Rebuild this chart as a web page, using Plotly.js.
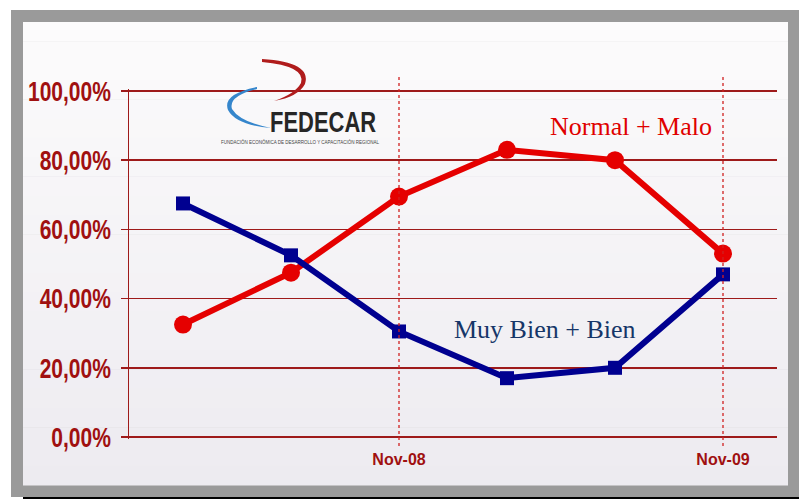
<!DOCTYPE html>
<html>
<head>
<meta charset="utf-8">
<script src="https://cdn.plot.ly/plotly-3.0.1.min.js"></script>
<style>html,body{margin:0;padding:0;background:#fff;}#chart{width:799px;height:499px;}</style>
</head>
<body>
<div id="chart"></div>
<script>
// ---- data ----
var periods = [0, 1, 2, 3, 4, 5];
var normalMalo = [32.5, 47.5, 69.5, 83, 80, 53];
var muyBienBien = [67.5, 52.5, 30.5, 17, 20, 47];
var yTickVals = [0, 20, 40, 60, 80, 100];
var yTickText = ["0,00%", "20,00%", "40,00%", "60,00%", "80,00%", "100,00%"];
var xTickVals = [2, 5];
var xTickText = ["Nov-08", "Nov-09"];

// ---- layout helpers (pixel -> paper) ----
var M = {l: 129, r: 22, t: 89, b: 60};
var W = 799, H = 499;
var PW = W - M.l - M.r, PH = H - M.t - M.b;
function px(x) { return (x - M.l) / PW; }
function py(y) { return (H - M.b - y) / PH; }
function pt(x, y) { return px(x).toFixed(5) + "," + py(y).toFixed(5); }

var darkRed = "#9e1a1a";

var traces = [
  {
    x: periods, y: normalMalo, type: "scatter", mode: "lines+markers",
    line: {color: "#e50000", width: 6},
    marker: {symbol: "circle", size: 18, color: "#e50000"},
    hoverinfo: "skip", showlegend: false
  },
  {
    x: periods, y: muyBienBien, type: "scatter", mode: "lines+markers",
    line: {color: "#000090", width: 6},
    marker: {symbol: "square", size: 14, color: "#000090"},
    hoverinfo: "skip", showlegend: false
  }
];

var shapes = [
  // gray frame
  {type: "rect", xref: "paper", yref: "paper", layer: "below",
   x0: px(11), x1: px(800), y0: py(497), y1: py(10),
   fillcolor: "#9a9a9a", line: {width: 0}}
];
// inner panel with a soft vertical gradient
var nBands = 24, panelTop = 22, panelBot = 485;
for (var i = 0; i < nBands; i++) {
  var b0 = panelTop + (panelBot - panelTop) * i / nBands;
  var b1 = panelTop + (panelBot - panelTop) * (i + 1) / nBands;
  var f = i / (nBands - 1);
  var cr = Math.round(252 - 15 * f), cg = Math.round(251 - 16 * f), cb = Math.round(252 - 12 * f);
  shapes.push({type: "rect", xref: "paper", yref: "paper", layer: "below",
    x0: px(23), x1: px(788), y0: py(b1 + 0.5), y1: py(b0),
    fillcolor: "rgb(" + cr + "," + cg + "," + cb + ")", line: {width: 0}});
}
shapes.push(
  // black bottom line
  {type: "rect", xref: "paper", yref: "paper", layer: "below",
   x0: px(23), x1: px(800), y0: py(499.5), y1: py(497),
   fillcolor: "#000000", line: {width: 0}},
  // logo swooshes (filled crescents)
  {type: "path", xref: "paper", yref: "paper", layer: "above",
   path: "M" + pt(262, 59) + " Q" + pt(312, 62) + " " + pt(305, 84) +
         " Q" + pt(298, 97) + " " + pt(274, 101) +
         " Q" + pt(295, 94) + " " + pt(301, 83) +
         " Q" + pt(306, 66) + " " + pt(262, 62) + " Z",
   fillcolor: "#b01c1c", line: {width: 0}},
  {type: "path", xref: "paper", yref: "paper", layer: "above",
   path: "M" + pt(257, 87) + " Q" + pt(222, 94) + " " + pt(228, 110) +
         " Q" + pt(236, 125) + " " + pt(271, 128) +
         " Q" + pt(240, 122) + " " + pt(232, 109) +
         " Q" + pt(228, 96) + " " + pt(257, 89) + " Z",
   fillcolor: "#3586cc", line: {width: 0}}
);
// dotted verticals at the tick categories
xTickVals.forEach(function (v) {
  shapes.push({type: "line", xref: "x", yref: "paper", layer: "above",
    x0: v, x1: v, y0: py(446), y1: py(75),
    line: {color: "#d02020", width: 1.3, dash: "dot"}});
});

var annotations = [
  {xref: "paper", yref: "paper", x: px(631), y: py(126), text: "Normal + Malo",
   showarrow: false, xanchor: "center", yanchor: "middle",
   font: {family: "Liberation Serif, serif", size: 26, color: "#e00000"}},
  {xref: "paper", yref: "paper", x: px(545), y: py(329), text: "Muy Bien + Bien",
   showarrow: false, xanchor: "center", yanchor: "middle",
   font: {family: "Liberation Serif, serif", size: 26, color: "#163668"}},
  {xref: "paper", yref: "paper", x: px(323), y: py(122), text: "FEDECAR",
   showarrow: false, xanchor: "center", yanchor: "middle",
   font: {family: "Liberation Sans, sans-serif", size: 29, color: "#262626", weight: "bold"}},
  {xref: "paper", yref: "paper", x: px(300), y: py(142), text: "FUNDACIÓN ECONÓMICA DE DESARROLLO Y CAPACITACIÓN REGIONAL",
   showarrow: false, xanchor: "center", yanchor: "middle",
   font: {family: "Liberation Sans, sans-serif", size: 4.5, color: "#444"}}
];

// 2px padding above/below so the 0% and 100% gridlines are kept
var pad = 2 * 100 / 346;

var layout = {
  width: W, height: H,
  margin: M,
  paper_bgcolor: "#ffffff",
  plot_bgcolor: "rgba(0,0,0,0)",
  showlegend: false,
  xaxis: {
    range: [-0.5, 5.5], showgrid: false, zeroline: false, showline: false,
    tickmode: "array", tickvals: xTickVals, ticktext: xTickText,
    ticks: "", ticklabelstandoff: 9,
    tickfont: {family: "Liberation Sans, Arial, sans-serif", size: 16, color: "#a01010", weight: "bold"}
  },
  yaxis: {
    range: [-pad, 100 + pad], showgrid: true, gridcolor: darkRed, gridwidth: 1.5,
    zeroline: false, showline: true, linecolor: darkRed, linewidth: 1.5,
    ticks: "outside", ticklen: 7, tickcolor: darkRed, tickwidth: 1.5,
    tickmode: "array", tickvals: yTickVals, ticktext: yTickText,
    ticklabelstandoff: 4,
    tickfont: {family: "Liberation Sans, Arial, sans-serif", size: 28, color: "#a01010", weight: "bold"}
  },
  shapes: shapes,
  annotations: annotations
};

function condense(sel, factor) {
  document.querySelectorAll(sel).forEach(function (el) {
    var w = el.getComputedTextLength();
    el.setAttribute("textLength", (w * factor).toFixed(1));
    el.setAttribute("lengthAdjust", "spacingAndGlyphs");
  });
}

Plotly.newPlot("chart", traces, layout, {displayModeBar: false, staticPlot: true}).then(function () {
  condense("g.ytick text", 0.75);
  document.querySelectorAll("g.annotation text").forEach(function (el) {
    if (el.textContent === "FEDECAR") {
      el.setAttribute("textLength", "106");
      el.setAttribute("lengthAdjust", "spacingAndGlyphs");
    }
  });
});
</script>
</body>
</html>
